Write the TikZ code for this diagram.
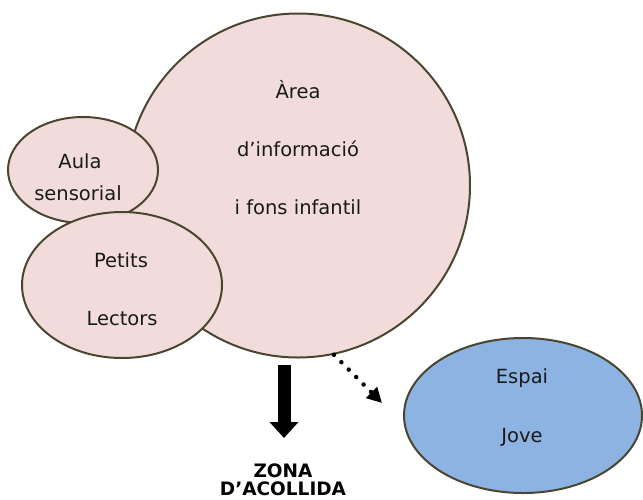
\documentclass[tikz,border=0pt]{standalone}
\usepackage{fontspec}
\setmainfont{DejaVu Sans}
\usetikzlibrary{arrows.meta,shapes.geometric}
\definecolor{pinkfill}{HTML}{F2DCDB}
\definecolor{bluefill}{HTML}{8DB3E2}
\definecolor{olivedark}{HTML}{4A4530}
\definecolor{txt}{HTML}{1A1A1A}
\tikzset{
  zone/.style={ellipse, draw=olivedark, line width=2pt, fill=pinkfill, inner sep=0pt},
  lbl/.style={font=\fontsize{19.5}{23}\selectfont, anchor=base, text=txt, inner sep=0pt},
  blbl/.style={font=\fontsize{18.5}{21}\selectfont\bfseries, anchor=base, text=black, inner sep=0pt},
}
\begin{document}
\begin{tikzpicture}[x=1pt,y=-1pt]
\useasboundingbox (0,0) rectangle (643,499);
\node[zone, circle, minimum size=344pt] (big) at (298,185.5) {};
\node[zone, minimum width=150pt, minimum height=106pt] (aula) at (83,170) {};
\node[zone, minimum width=200pt, minimum height=146pt] (petits) at (122,285) {};
\node[zone, fill=bluefill, minimum width=238pt, minimum height=155pt] (jove) at (523,415.5) {};
\node[lbl] (t1) at (298,98) {Àrea};
\node[lbl] (t2) at (298,156) {d’informació};
\node[lbl] (t3) at (298,214) {i fons infantil};
\node[lbl] (a1) at (80,168) {Aula};
\node[lbl] (a2) at (78,200) {sensorial};
\node[lbl] (p1) at (121,267) {Petits};
\node[lbl] (p2) at (122,325) {Lectors};
\node[lbl] (e1) at (522,383) {Espai};
\node[lbl] (e2) at (522,442) {Jove};
\node[blbl] (z1) at (283,477) {ZONA};
\node[blbl] (z2) at (283,495) {D’ACOLLIDA};
\coordinate (ds) at (284,365);
\coordinate (de) at (284,438);
\draw[line width=13pt, -{Triangle[length=16pt,width=28pt]}] (ds) -- (de);
\coordinate (dotend) at (382,403);
\draw[line width=4.5pt, line cap=round, dash pattern=on 0pt off 10.5pt, -{Triangle[length=15pt,width=15pt]}] (big.-78.5) -- (dotend);
\end{tikzpicture}
\end{document}
